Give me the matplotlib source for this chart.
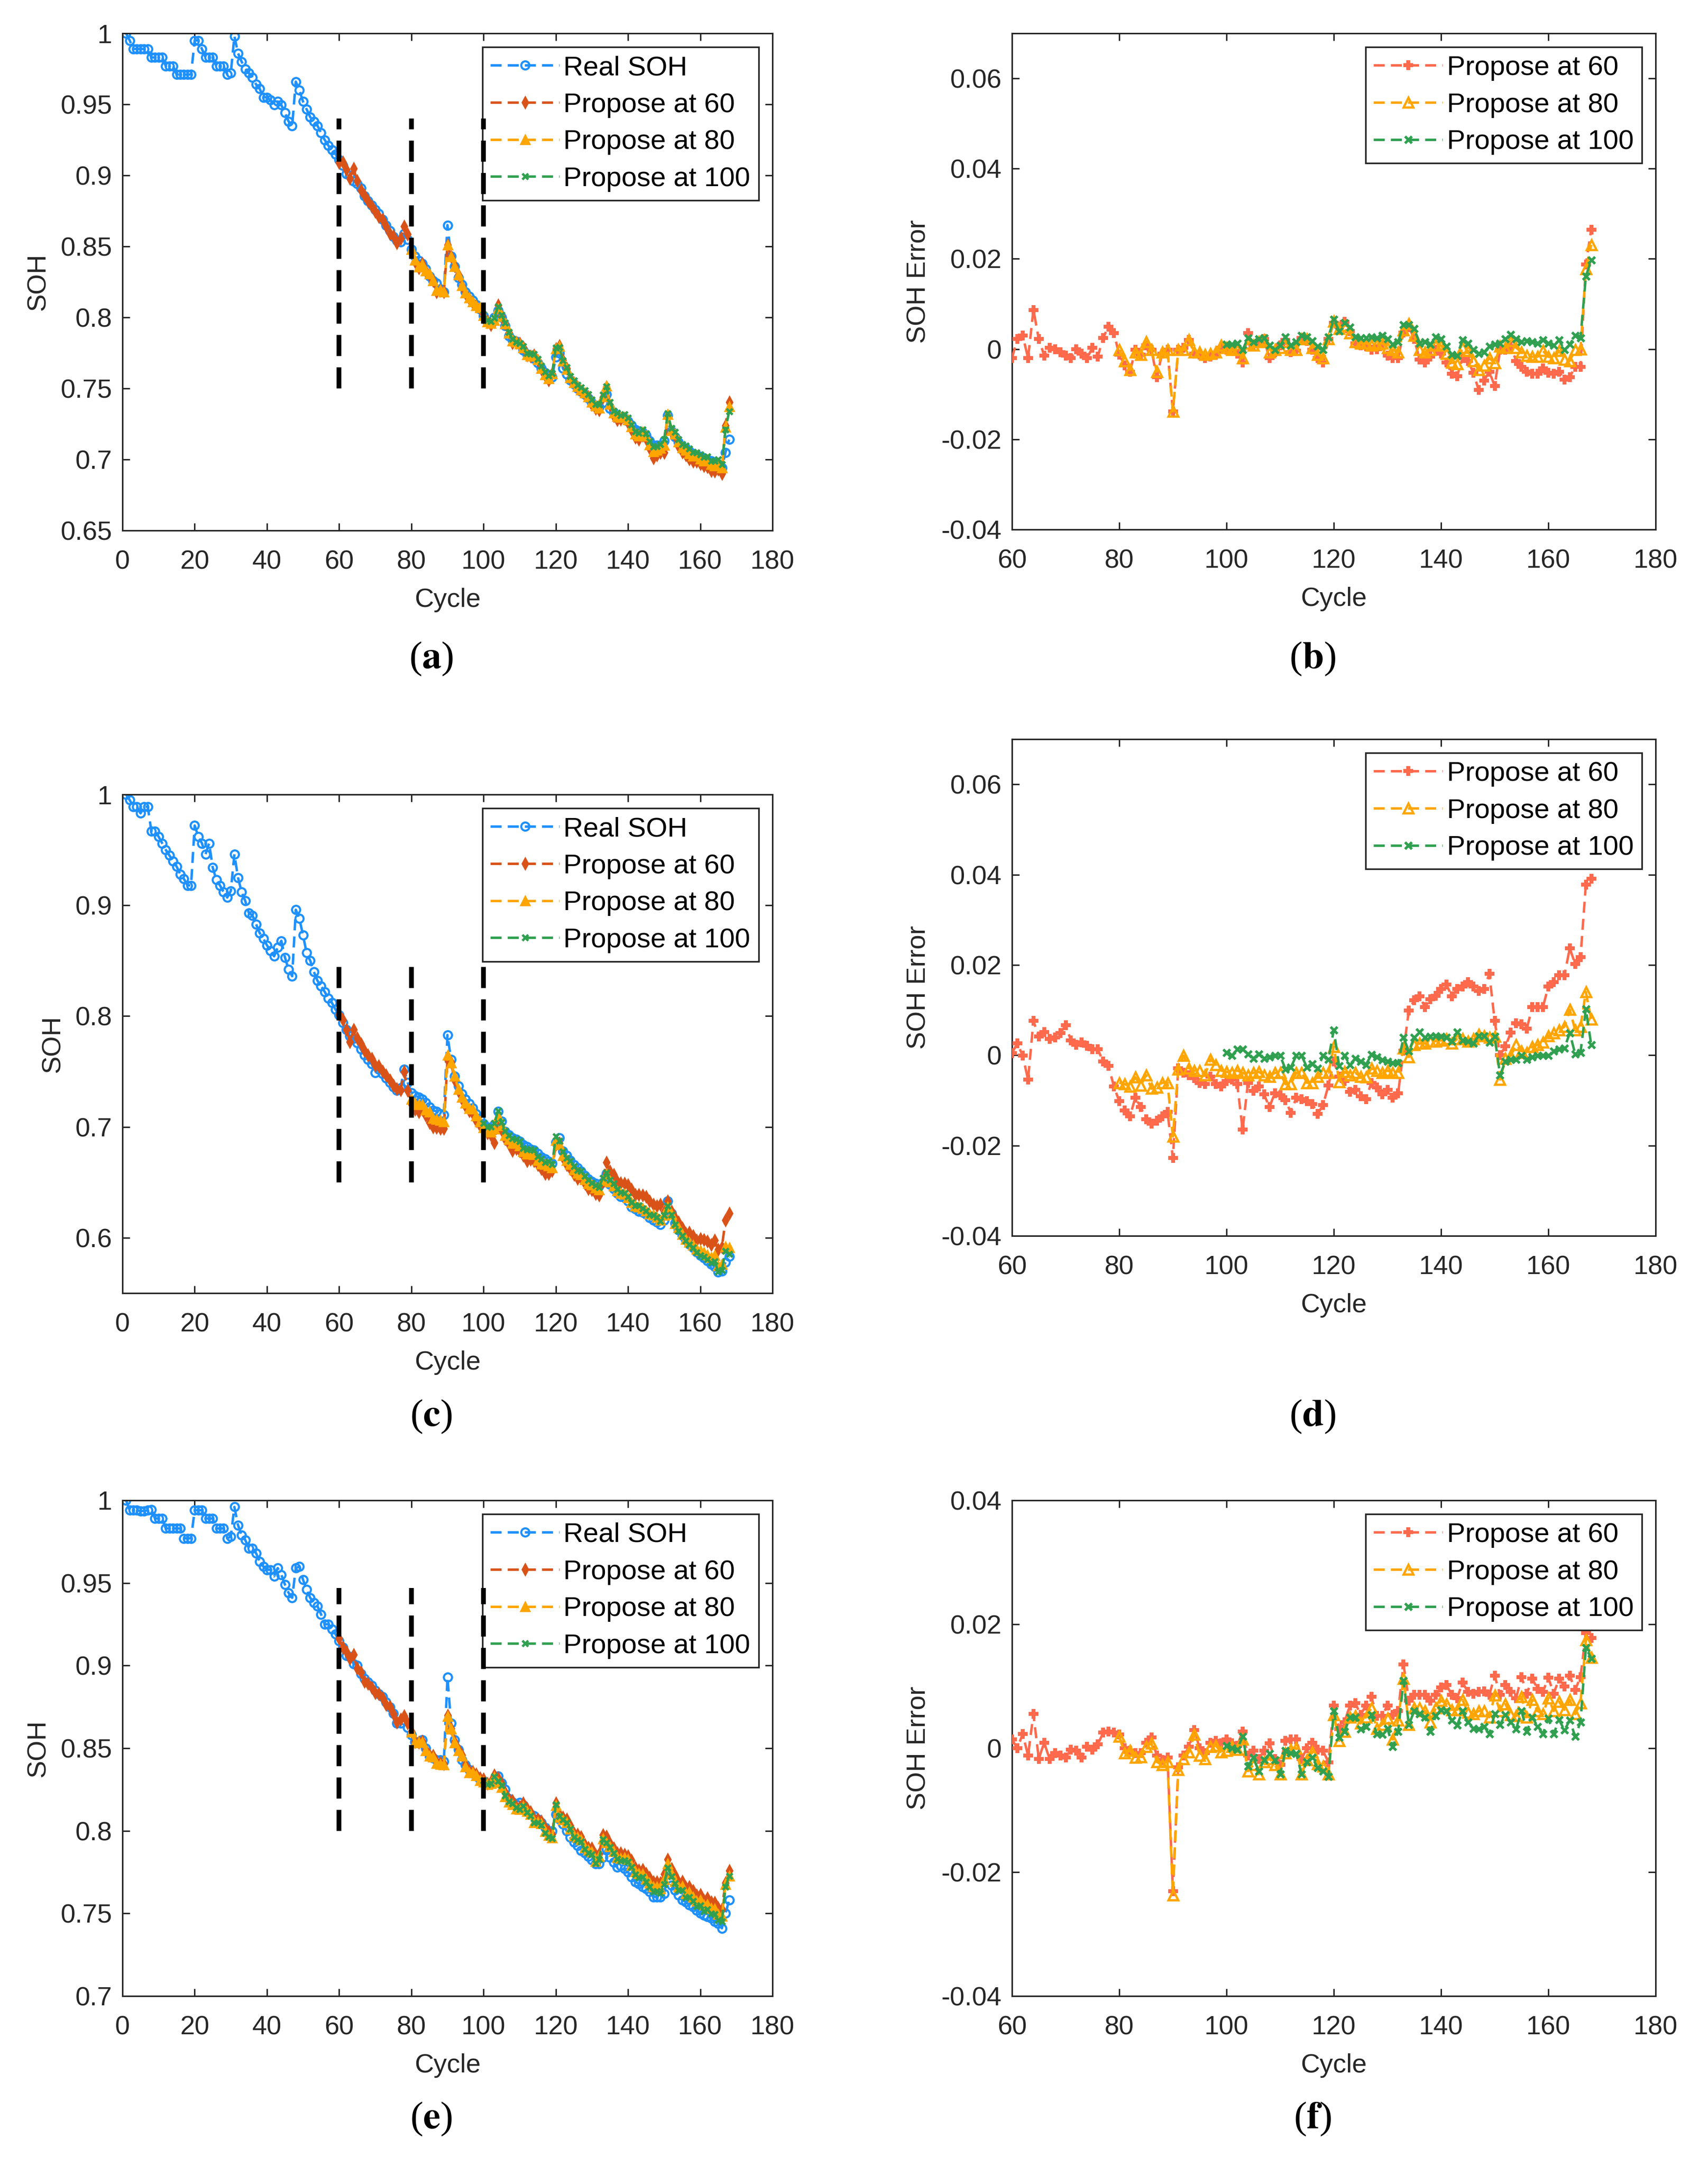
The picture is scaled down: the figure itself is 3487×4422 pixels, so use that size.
import numpy as np
import matplotlib
matplotlib.use("Agg")
import matplotlib.pyplot as plt
from matplotlib.ticker import FixedLocator, FuncFormatter

plt.rcParams['font.family'] = ['Liberation Sans', 'DejaVu Sans']
plt.rcParams['mathtext.fontset'] = 'stix'

# ---------------- data ----------------
cycles = list(range(1, 169))
split_cycles = [60, 80, 100]

real_a = [1.000, 0.995, 0.989, 0.989, 0.989, 0.989, 0.989, 0.983, 0.983, 0.983,
          0.983, 0.977, 0.977, 0.977, 0.971, 0.971, 0.971, 0.971, 0.971, 0.995,
          0.995, 0.989, 0.983, 0.983, 0.983, 0.977, 0.977, 0.977, 0.971, 0.972,
          0.998, 0.986, 0.980, 0.975, 0.972, 0.969, 0.964, 0.961, 0.955, 0.955,
          0.953, 0.9495, 0.952, 0.9495, 0.944, 0.938, 0.935, 0.966, 0.960, 0.952,
          0.9465, 0.941, 0.938, 0.935, 0.930, 0.925, 0.921, 0.918, 0.915, 0.911,
          0.907, 0.901, 0.900, 0.896, 0.894, 0.891, 0.8855, 0.882, 0.879, 0.876,
          0.873, 0.869, 0.865, 0.861, 0.857, 0.854, 0.853, 0.859, 0.855, 0.848,
          0.843, 0.840, 0.838, 0.834, 0.829, 0.826, 0.824, 0.820, 0.818, 0.865,
          0.843, 0.836, 0.828, 0.823, 0.818, 0.815, 0.812, 0.809, 0.806, 0.801,
          0.797, 0.796, 0.800, 0.805, 0.800, 0.794, 0.787, 0.784, 0.783, 0.781,
          0.777, 0.774, 0.773, 0.771, 0.768, 0.764, 0.761, 0.759, 0.758, 0.772,
          0.775, 0.764, 0.760, 0.756, 0.753, 0.750, 0.748, 0.746, 0.743, 0.740,
          0.738, 0.737, 0.740, 0.746, 0.736, 0.733, 0.731, 0.730, 0.729, 0.727,
          0.724, 0.721, 0.720, 0.719, 0.717, 0.713, 0.710, 0.710, 0.710, 0.713,
          0.731, 0.720, 0.716, 0.712, 0.709, 0.708, 0.706, 0.704, 0.703, 0.702,
          0.701, 0.700, 0.699, 0.698, 0.697, 0.694, 0.705, 0.714]

real_c = [1.000, 0.995, 0.989, 0.989, 0.983, 0.989, 0.989, 0.967, 0.967, 0.962,
          0.956, 0.950, 0.945, 0.940, 0.935, 0.928, 0.924, 0.918, 0.918, 0.972,
          0.962, 0.956, 0.946, 0.956, 0.934, 0.923, 0.918, 0.912, 0.907, 0.913,
          0.946, 0.925, 0.912, 0.904, 0.893, 0.891, 0.883, 0.875, 0.870, 0.864,
          0.859, 0.854, 0.862, 0.868, 0.853, 0.842, 0.836, 0.896, 0.888, 0.873,
          0.857, 0.850, 0.840, 0.832, 0.827, 0.822, 0.816, 0.812, 0.806, 0.801,
          0.794, 0.788, 0.782, 0.780, 0.776, 0.770, 0.765, 0.761, 0.757, 0.749,
          0.752, 0.748, 0.744, 0.740, 0.736, 0.733, 0.735, 0.752, 0.740, 0.731,
          0.728, 0.727, 0.725, 0.722, 0.718, 0.715, 0.714, 0.712, 0.711, 0.783,
          0.761, 0.746, 0.737, 0.730, 0.725, 0.721, 0.717, 0.712, 0.708, 0.703,
          0.700, 0.699, 0.702, 0.714, 0.705, 0.696, 0.693, 0.690, 0.689, 0.687,
          0.684, 0.682, 0.680, 0.679, 0.676, 0.673, 0.671, 0.669, 0.667, 0.686,
          0.690, 0.678, 0.674, 0.670, 0.666, 0.663, 0.660, 0.656, 0.653, 0.651,
          0.649, 0.647, 0.650, 0.658, 0.648, 0.644, 0.640, 0.637, 0.636, 0.633,
          0.628, 0.626, 0.624, 0.623, 0.621, 0.618, 0.616, 0.614, 0.612, 0.616,
          0.633, 0.622, 0.613, 0.607, 0.602, 0.598, 0.594, 0.591, 0.587, 0.584,
          0.582, 0.579, 0.576, 0.574, 0.569, 0.570, 0.578, 0.583]

real_e = [1.000, 0.994, 0.994, 0.994, 0.9935, 0.9935, 0.994, 0.9945, 0.989, 0.989,
          0.989, 0.983, 0.983, 0.983, 0.983, 0.983, 0.977, 0.977, 0.977, 0.994,
          0.994, 0.994, 0.989, 0.989, 0.989, 0.983, 0.983, 0.983, 0.977, 0.978,
          0.996, 0.985, 0.979, 0.976, 0.971, 0.971, 0.968, 0.963, 0.960, 0.958,
          0.958, 0.954, 0.959, 0.955, 0.949, 0.944, 0.941, 0.959, 0.960, 0.952,
          0.946, 0.941, 0.938, 0.936, 0.931, 0.925, 0.925, 0.922, 0.919, 0.915,
          0.911, 0.906, 0.9055, 0.901, 0.900, 0.895, 0.892, 0.890, 0.888, 0.885,
          0.883, 0.881, 0.878, 0.875, 0.871, 0.865, 0.865, 0.867, 0.8625, 0.858,
          0.854, 0.854, 0.855, 0.850, 0.845, 0.844, 0.843, 0.843, 0.842, 0.893,
          0.865, 0.855, 0.849, 0.843, 0.840, 0.837, 0.835, 0.833, 0.831, 0.830,
          0.828, 0.829, 0.831, 0.833, 0.829, 0.825, 0.8195, 0.8175, 0.816, 0.817,
          0.8155, 0.812, 0.810, 0.809, 0.807, 0.805, 0.802, 0.800, 0.800, 0.810,
          0.807, 0.804, 0.800, 0.796, 0.793, 0.791, 0.788, 0.7865, 0.7845, 0.7825,
          0.780, 0.780, 0.784, 0.789, 0.784, 0.781, 0.778, 0.779, 0.777, 0.775,
          0.772, 0.769, 0.768, 0.766, 0.765, 0.763, 0.760, 0.760, 0.760, 0.762,
          0.774, 0.767, 0.764, 0.761, 0.758, 0.757, 0.755, 0.754, 0.752, 0.750,
          0.749, 0.748, 0.747, 0.745, 0.744, 0.741, 0.750, 0.758]

# prediction errors (prediction - real), cycles 60..168 / 80..168 / 100..168
err60_b = [-0.002, 0.0022, 0.003, -0.002, 0.0087, 0.0022, -0.0014, 0.0003, 0.0, -0.0007,
           -0.0014, -0.002, 0.0, -0.001, -0.002, 0.0003, -0.0017, 0.0025, 0.005, 0.0035,
           -0.0012, -0.0036, -0.005, -0.0002, -0.0012, 0.0008, -0.0002, -0.0062, -0.001, -0.0002,
           -0.0138, -0.0002, 0.0003, 0.002, -0.001, -0.0012, -0.002, -0.0017, -0.0012, 0.0003,
           -0.0002, -0.0002, -0.001, -0.003, 0.0035, 0.0008, 0.0016, 0.0022, -0.002, -0.0007,
           0.0008, 0.002, -0.0007, -0.0004, 0.0025, 0.0018, -0.0002, -0.002, -0.003, 0.0022,
           0.0058, 0.005, 0.006, 0.004, 0.0013, 0.0008, 0.0006, -0.0002, 0.0, 0.001,
           -0.0014, -0.002, -0.002, 0.0037, 0.0049, 0.0022, -0.0023, -0.003, -0.0017, -0.0002,
           -0.001, -0.003, -0.0055, -0.006, -0.002, -0.0026, -0.0052, -0.009, -0.007, -0.005,
           -0.0082, -0.0002, -0.0002, 0.0006, -0.0026, -0.0039, -0.005, -0.0055, -0.0055, -0.0043,
           -0.0052, -0.0055, -0.005, -0.0068, -0.0062, -0.0039, -0.004, 0.0188, 0.0265]
err80_b = [-0.0002, -0.0026, -0.0046, -0.0007, -0.0012, 0.0016, -0.0002, -0.005, -0.0007, -0.0002,
           -0.0138, -0.0002, -0.0002, 0.002, -0.0007, -0.0007, -0.0012, -0.001, -0.0007, 0.0008,
           0.0003, -0.0002, -0.0002, -0.002, 0.0013, 0.0008, 0.0016, 0.002, -0.0007, -0.0002,
           0.0003, 0.0016, -0.0002, -0.0002, 0.0022, 0.0022, 0.0003, -0.0012, -0.002, 0.0022,
           0.0061, 0.0045, 0.0052, 0.0035, 0.0016, 0.0013, 0.0013, 0.0008, 0.001, 0.0013,
           0.0003, -0.0002, -0.0007, 0.0042, 0.0056, 0.003, -0.0002, -0.0007, -0.0002, 0.0008,
           0.0008, -0.001, -0.003, -0.0033, 0.0003, -0.0004, -0.0026, -0.0046, -0.0036, -0.002,
           -0.0031, 0.0006, 0.0003, 0.0018, 0.0003, -0.0007, -0.0014, -0.0017, -0.0017, -0.0004,
           -0.0017, -0.002, -0.0004, -0.0023, -0.0026, -0.0002, 0.0, 0.0178, 0.0231]
err100_b = [0.001, 0.001, 0.0013, -0.0002, 0.0025, 0.0016, 0.0022, 0.0025, 0.0008, -0.0002,
            0.0008, 0.0027, 0.0008, 0.0016, 0.003, 0.0027, 0.0018, 0.0006, -0.0002, 0.0027,
            0.0066, 0.004, 0.0058, 0.0049, 0.0027, 0.0025, 0.0025, 0.0027, 0.0025, 0.003,
            0.0022, 0.001, 0.0016, 0.0054, 0.0054, 0.0045, 0.0013, 0.0016, 0.001, 0.0027,
            0.0022, 0.0006, -0.0012, -0.0014, 0.002, 0.0013, -0.0002, -0.001, -0.0007, 0.0006,
            0.001, 0.0013, 0.0022, 0.0032, 0.0022, 0.0016, 0.0018, 0.0016, 0.0013, 0.002,
            0.0013, 0.0008, 0.002, -0.0002, 0.001, 0.003, 0.0025, 0.0161, 0.0197]

err60_d = [0.0005, 0.0026, -0.0001, -0.0054, 0.0076, 0.0041, 0.0051, 0.0036, 0.0039, 0.0049,
           0.0066, 0.0033, 0.0023, 0.0029, 0.0021, 0.0013, 0.0013, -0.0014, -0.0024, -0.0069,
           -0.0102, -0.0122, -0.0135, -0.0094, -0.0115, -0.0142, -0.0152, -0.0145, -0.0135, -0.0125,
           -0.0228, -0.0029, -0.0039, -0.0044, -0.0051, -0.0061, -0.0064, -0.0047, -0.0064, -0.0069,
           -0.0057, -0.0054, -0.0064, -0.0165, -0.0061, -0.0079, -0.0069, -0.0087, -0.0115, -0.0084,
           -0.0089, -0.0099, -0.0128, -0.0094, -0.0097, -0.0102, -0.0108, -0.013, -0.011, -0.0067,
           -0.0014, -0.0047, -0.0057, -0.0081, -0.0077, -0.0091, -0.0097, -0.0061, -0.0071, -0.0087,
           -0.0077, -0.0094, -0.0084, 0.001, 0.0099, 0.0122, 0.013, 0.0107, 0.0124, 0.0132,
           0.0147, 0.0157, 0.013, 0.0147, 0.0152, 0.0162, 0.0152, 0.0142, 0.0147, 0.018,
           0.0076, 0.0, 0.002, 0.005, 0.0071, 0.0069, 0.0059, 0.0107, 0.0107, 0.0107,
           0.0152, 0.0162, 0.0177, 0.0177, 0.0237, 0.0202, 0.0217, 0.0378, 0.0391]
err80_d = [-0.0061, -0.0064, -0.0069, -0.0049, -0.0067, -0.0044, -0.0074, -0.0071, -0.0061, -0.0061,
           -0.018, -0.0031, -0.0001, -0.0029, -0.0034, -0.0034, -0.0044, -0.0009, -0.0021, -0.0034,
           -0.0037, -0.0039, -0.0034, -0.0039, -0.0044, -0.0039, -0.0037, -0.0044, -0.0047, -0.0039,
           -0.0039, -0.0064, -0.0064, -0.0039, -0.0039, -0.0061, -0.0061, -0.0047, -0.0039, -0.0039,
           0.0019, -0.0059, -0.0037, -0.0044, -0.0039, -0.0047, -0.0049, -0.0029, -0.0034, -0.0039,
           -0.0034, -0.0039, -0.0039, 0.0016, -0.0004, 0.0023, 0.0026, 0.0026, 0.0031, 0.0031,
           0.0033, 0.0036, 0.0026, 0.0036, 0.0036, 0.0031, 0.0036, 0.0046, 0.0043, 0.0039,
           0.0041, -0.0054, -0.0007, -0.0001, 0.0023, 0.0009, 0.0006, 0.0019, 0.0023, 0.0029,
           0.0043, 0.0049, 0.0056, 0.0063, 0.0101, 0.0056, 0.0063, 0.014, 0.0079]
err100_d = [0.0006, -0.0001, 0.0013, 0.0013, 0.0003, -0.0007, 0.0003, -0.0007, -0.0004, -0.0001,
            -0.0001, -0.0031, -0.0027, -0.0001, -0.0001, -0.0027, -0.0019, -0.0029, -0.0001, -0.0009,
            0.0056, -0.0024, -0.0001, -0.0021, -0.0007, -0.0014, -0.0021, 0.0001, -0.0004, -0.0011,
            -0.0014, -0.0017, -0.0017, 0.0039, 0.0009, 0.0039, 0.0051, 0.0039, 0.0041, 0.0043,
            0.0041, 0.0039, 0.0031, 0.0051, 0.0033, 0.0031, 0.0026, 0.0043, 0.0043, 0.0029,
            0.0041, -0.0044, -0.0014, -0.0009, -0.0009, -0.0001, -0.0009, -0.0004, -0.0001, -0.0001,
            -0.0001, 0.0009, 0.0013, 0.0016, 0.0049, 0.0003, 0.0006, 0.0102, 0.0023]

err60_f = [0.0014, 0.0, 0.0023, -0.0012, 0.0055, -0.0017, 0.0009, -0.0017, -0.0008, -0.0012,
           -0.0015, -0.0002, -0.0004, -0.0015, 0.0002, -0.0002, 0.0006, 0.0025, 0.0027, 0.0025,
           0.0022, 0.0, -0.0004, -0.0008, -0.0008, 0.0009, 0.0017, -0.0012, -0.0019, -0.0015,
           -0.0231, -0.0031, -0.0012, 0.0002, 0.0029, 0.0, -0.0008, 0.0009, 0.0012, 0.0008,
           0.0014, 0.0008, 0.0004, 0.0027, -0.0012, -0.0004, -0.0017, -0.0004, 0.0008, -0.0017,
           -0.0027, 0.0012, 0.0014, 0.0014, -0.0017, 0.0, 0.0009, -0.0002, -0.0004, -0.0023,
           0.0069, 0.0031, 0.0042, 0.0069, 0.0073, 0.0054, 0.0069, 0.0083, 0.0052, 0.0052,
           0.0069, 0.0054, 0.006, 0.0135, 0.0077, 0.0086, 0.0086, 0.0086, 0.0077, 0.0086,
           0.0098, 0.0102, 0.0086, 0.0081, 0.0106, 0.0091, 0.0088, 0.0091, 0.0092, 0.0086,
           0.0117, 0.0086, 0.0102, 0.0091, 0.0081, 0.0115, 0.0088, 0.0112, 0.0096, 0.0091,
           0.0114, 0.0088, 0.0112, 0.01, 0.0117, 0.0094, 0.0115, 0.0186, 0.0178]
err80_f = [0.0019, -0.0008, -0.0004, -0.0015, -0.0014, 0.0002, 0.0008, -0.0022, -0.0027, -0.0022,
           -0.0237, -0.0035, -0.0017, -0.0006, 0.0022, -0.0012, -0.0017, 0.0002, 0.0004, -0.0006,
           -0.0004, 0.0002, -0.0002, 0.0014, -0.0037, -0.0027, -0.0042, -0.0022, -0.0017, -0.0027,
           -0.0042, -0.0008, -0.0002, 0.0, -0.0042, -0.0019, -0.0006, -0.0025, -0.0029, -0.0042,
           0.0054, 0.0012, 0.0027, 0.005, 0.0052, 0.004, 0.005, 0.0065, 0.0032, 0.0038,
           0.0048, 0.0014, 0.0045, 0.0112, 0.0038, 0.0065, 0.0065, 0.006, 0.0042, 0.0065,
           0.0077, 0.0071, 0.0062, 0.0062, 0.0078, 0.0058, 0.0055, 0.006, 0.006, 0.005,
           0.0085, 0.006, 0.0071, 0.0054, 0.0052, 0.0083, 0.005, 0.0078, 0.006, 0.0055,
           0.0081, 0.006, 0.0075, 0.0062, 0.0078, 0.0055, 0.0073, 0.0175, 0.0146]
err100_f = [0.0004, 0.0, -0.0002, 0.0019, -0.0029, -0.0015, -0.0037, -0.0019, -0.0009, -0.0019,
            -0.0042, -0.0004, -0.0008, -0.0009, -0.0042, -0.0022, -0.0015, -0.0032, -0.0037, -0.0046,
            0.006, 0.0017, 0.0027, 0.005, 0.005, 0.0031, 0.0035, 0.0054, 0.0023, 0.0022,
            0.0032, 0.0002, 0.0027, 0.0109, 0.0038, 0.006, 0.0055, 0.005, 0.0027, 0.0052,
            0.0062, 0.006, 0.0045, 0.0037, 0.006, 0.0042, 0.0032, 0.0031, 0.0035, 0.0023,
            0.0055, 0.0038, 0.0054, 0.0042, 0.0031, 0.006, 0.0027, 0.005, 0.0035, 0.0023,
            0.0048, 0.0023, 0.0046, 0.0029, 0.0045, 0.0019, 0.0042, 0.0162, 0.0145]

legend_left = ['Real SOH', 'Propose at 60', 'Propose at 80', 'Propose at 100']
legend_right = ['Propose at 60', 'Propose at 80', 'Propose at 100']
captions = ['a', 'b', 'c', 'd', 'e', 'f']

soh_ylims = [(0.65, 1.0), (0.55, 1.0), (0.7, 1.0)]
soh_yticks = [[0.65, 0.7, 0.75, 0.8, 0.85, 0.9, 0.95, 1.0],
              [0.6, 0.7, 0.8, 0.9, 1.0],
              [0.7, 0.75, 0.8, 0.85, 0.9, 0.95, 1.0]]
vline_ranges = [(0.75, 0.94), (0.65, 0.845), (0.80, 0.947)]
err_ylims = [(-0.04, 0.07), (-0.04, 0.07), (-0.04, 0.04)]
err_yticks = [[-0.04, -0.02, 0, 0.02, 0.04, 0.06],
              [-0.04, -0.02, 0, 0.02, 0.04, 0.06],
              [-0.04, -0.02, 0, 0.02, 0.04]]

# ---------------- styling ----------------
C_BLUE = '#1E90FF'
C_RED_L = '#D95319'
C_RED_R = '#FF6A4D'
C_ORANGE = '#FFA500'
C_GREEN = '#30A050'
AXC = '#262626'
DASH = (4.5, 2.5)
LW = 1.2
FS = 13.0
FS_LEG = 13.5

W, H = 3487, 4422
DPI = 300
fig = plt.figure(figsize=(W / DPI, H / DPI), dpi=DPI)

left_pos = [(250, 68, 1577, 1083), (250, 1622, 1577, 2640), (250, 3063, 1577, 4075)]
right_pos = [(2066, 68, 3380, 1081), (2066, 1509, 3380, 2523), (2066, 3063, 3380, 4075)]
cap_pos = [(880, 1345, 2680, 1345), (880, 2892, 2680, 2892), (880, 4326, 2680, 4326)]


def to_rect(p):
    x0, y0, x1, y1 = p
    return [x0 / W, 1 - y1 / H, (x1 - x0) / W, (y1 - y0) / H]


def fmt(v, pos):
    s = ('%.2f' % v).rstrip('0').rstrip('.')
    if s == '-0':
        s = '0'
    return s


def style_axes(ax):
    for sp in ax.spines.values():
        sp.set_color(AXC)
        sp.set_linewidth(0.75)
    ax.tick_params(direction='in', top=True, right=True, length=3.5, width=0.7,
                   colors=AXC, labelsize=FS)
    ax.tick_params(axis='x', pad=9.5)
    ax.tick_params(axis='y', pad=5)
    ax.yaxis.set_major_formatter(FuncFormatter(fmt))
    ax.xaxis.set_major_formatter(FuncFormatter(fmt))


def style_legend(leg):
    fr = leg.get_frame()
    fr.set_edgecolor(AXC)
    fr.set_linewidth(0.8)
    fr.set_boxstyle('square', pad=0)


def make_legend(ax):
    leg = ax.legend(loc='upper right', fontsize=FS_LEG, frameon=True, fancybox=False,
                    borderaxespad=0.5, labelspacing=0.42, handlelength=2.5,
                    handletextpad=0.15, borderpad=0.3, framealpha=1)
    style_legend(leg)


real_sets = [real_a, real_c, real_e]
err_sets = [(err60_b, err80_b, err100_b), (err60_d, err80_d, err100_d), (err60_f, err80_f, err100_f)]

for row in range(3):
    real = np.array(real_sets[row])
    cyc = np.array(cycles)
    errs = err_sets[row]

    # ----- left: SOH -----
    ax = fig.add_axes(to_rect(left_pos[row]))
    ax.plot(cyc, real, linestyle='--', dashes=DASH, lw=LW, color=C_BLUE, marker='o',
            ms=4.0, mfc='none', mew=1.0, label=legend_left[0], zorder=2)
    pred_styles = [dict(color=C_RED_L, marker='d', ms=3.6, mfc=C_RED_L, mew=0.8),
                   dict(color=C_ORANGE, marker='^', ms=4.2, mfc=C_ORANGE, mew=0.8),
                   dict(color=C_GREEN, marker='x', ms=3.0, mew=1.2)]
    for k, (s, e) in enumerate(zip(split_cycles, errs)):
        xs = np.array(cycles[s - 1:])
        pred = real[s - 1:] + np.array(e)
        ax.plot(xs, pred, linestyle='--', dashes=DASH, lw=LW, label=legend_left[k + 1],
                zorder=3 + k, **pred_styles[k])
    y0, y1 = vline_ranges[row]
    for s in split_cycles:
        ax.plot([s, s], [y0, y1], color='black', lw=2.3, linestyle=(0, (4.5, 2.4)), zorder=8)
    ax.set_xlim(0, 180)
    ax.set_ylim(*soh_ylims[row])
    ax.xaxis.set_major_locator(FixedLocator(list(range(0, 181, 20))))
    ax.yaxis.set_major_locator(FixedLocator(soh_yticks[row]))
    style_axes(ax)
    ax.set_xlabel('Cycle', fontsize=FS, color=AXC, labelpad=6.5)
    ax.set_ylabel('SOH', fontsize=FS, color=AXC, labelpad=5)
    make_legend(ax)

    # ----- right: error -----
    ax2 = fig.add_axes(to_rect(right_pos[row]))
    err_styles = [dict(color=C_RED_R, marker='P', ms=4.2, mfc=C_RED_R, mew=0.5),
                  dict(color=C_ORANGE, marker='^', ms=5.0, mfc='none', mew=1.1),
                  dict(color=C_GREEN, marker='x', ms=3.4, mew=1.3)]
    for k, (s, e) in enumerate(zip(split_cycles, errs)):
        xs = np.array(cycles[s - 1:])
        ax2.plot(xs, np.array(e), linestyle='--', dashes=DASH, lw=LW,
                 label=legend_right[k], zorder=3 + k, **err_styles[k])
    ax2.set_xlim(60, 180)
    ax2.set_ylim(*err_ylims[row])
    ax2.xaxis.set_major_locator(FixedLocator(list(range(60, 181, 20))))
    ax2.yaxis.set_major_locator(FixedLocator(err_yticks[row]))
    style_axes(ax2)
    ax2.set_xlabel('Cycle', fontsize=FS, color=AXC, labelpad=6.5)
    ax2.set_ylabel('SOH Error', fontsize=FS, color=AXC, labelpad=5)
    make_legend(ax2)

    # captions
    cx1, cy1, cx2, cy2 = cap_pos[row]
    for cx, cy, lab in [(cx1, cy1, captions[2 * row]), (cx2, cy2, captions[2 * row + 1])]:
        fig.text(cx / W, 1 - cy / H, '(' + r'$\mathbf{' + lab + '}$' + ')', ha='center',
                 va='center', fontsize=19, family='Liberation Serif', color='black')

fig.savefig('out.png', dpi=DPI, facecolor='white')
